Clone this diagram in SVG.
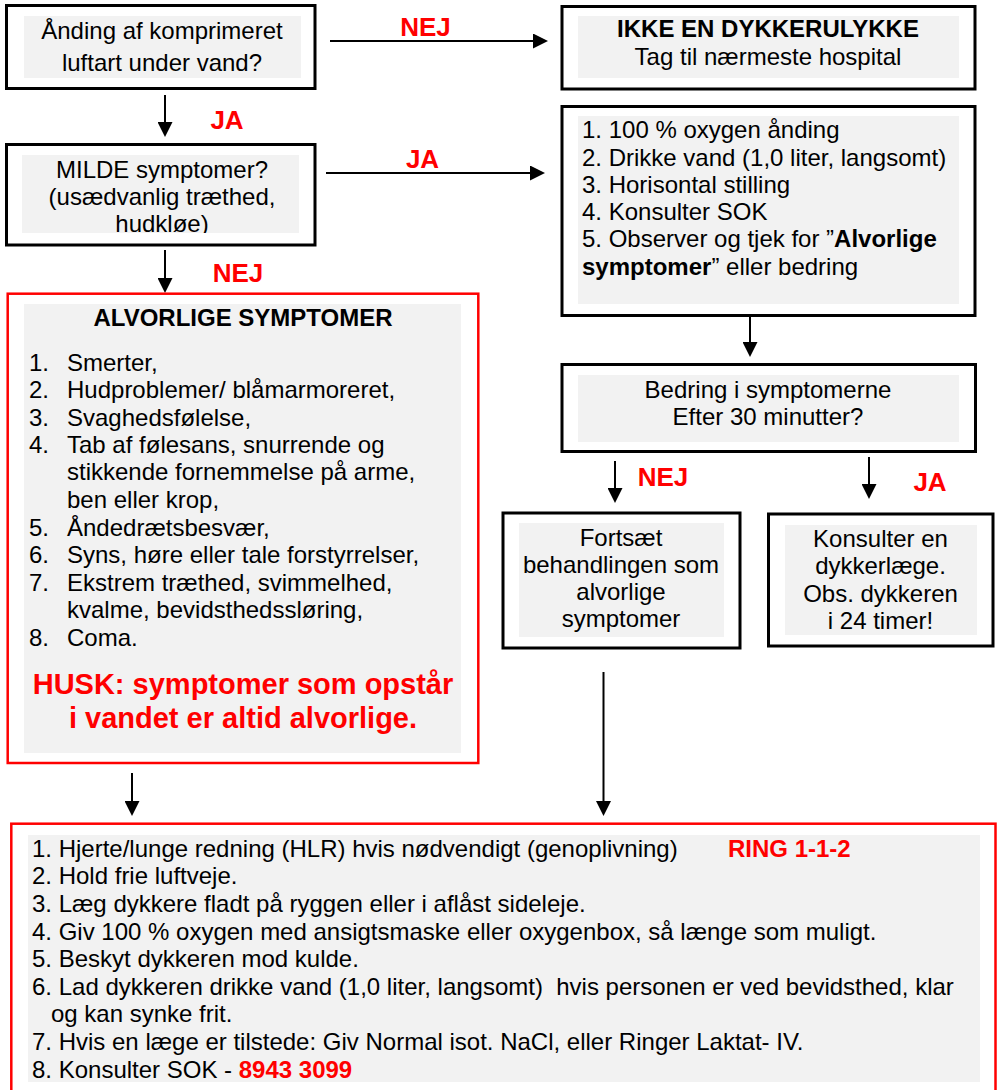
<svg xmlns="http://www.w3.org/2000/svg" width="998" height="1090" viewBox="0 0 998 1090">
<style>
.box{fill:#fff;stroke:#000;stroke-width:3}
.rbox{fill:#fff;stroke:#f00;stroke-width:2.5}
.bg{fill:#f2f2f2}
.t{font-family:"Liberation Sans",Arial,sans-serif;font-size:24px;fill:#000}
.c{text-anchor:middle}
.b{font-weight:bold}
.red{fill:#f00}
.lbl{font-family:"Liberation Sans",Arial,sans-serif;font-size:26px;font-weight:bold;fill:#f00;text-anchor:middle}
.husk{font-family:"Liberation Sans",Arial,sans-serif;font-size:29px;font-weight:bold;fill:#f00;text-anchor:middle}
.conn line{stroke:#000;stroke-width:2;marker-end:url(#ah)}
</style>
<defs>
<marker id="ah" viewBox="0 0 15 15" markerWidth="15" markerHeight="15" refX="10" refY="7.5" orient="auto" markerUnits="userSpaceOnUse">
<path d="M0,0 L15,7.5 L0,15 z" fill="#000"/>
</marker>
<clipPath id="clipMilde"><rect x="22" y="155" width="277" height="78"/></clipPath>
</defs>
<rect width="998" height="1090" fill="#fff"/>

<g id="connectors" class="conn">
<line x1="330" y1="41" x2="543" y2="41"/>
<line x1="165" y1="95" x2="165" y2="132"/>
<line x1="326" y1="173" x2="540" y2="173"/>
<line x1="165" y1="250" x2="165" y2="288"/>
<line x1="750" y1="317" x2="750" y2="352"/>
<line x1="615" y1="461" x2="615" y2="498"/>
<line x1="869" y1="457" x2="869" y2="494"/>
<line x1="132" y1="773" x2="132" y2="811"/>
<line x1="603.5" y1="672" x2="603.5" y2="811"/>
</g>

<g id="labels">
<text class="lbl" x="425.5" y="36">NEJ</text>
<text class="lbl" x="227" y="129">JA</text>
<text class="lbl" x="422.5" y="168">JA</text>
<text class="lbl" x="238" y="282">NEJ</text>
<text class="lbl" x="663" y="486">NEJ</text>
<text class="lbl" x="930" y="491">JA</text>
</g>

<g id="n-breathing">
<rect class="box" x="6.5" y="5.5" width="308.5" height="83"/>
<rect class="bg" x="24" y="16" width="277" height="62"/>
<text class="t c" x="162" y="39">Ånding af komprimeret</text>
<text class="t c" x="162" y="71">luftart under vand?</text>
</g>

<g id="n-notaccident">
<rect class="box" x="562" y="6.5" width="413" height="82.5"/>
<rect class="bg" x="578" y="16" width="381" height="62"/>
<text class="t c b" x="768" y="37">IKKE EN DYKKERULYKKE</text>
<text class="t c" x="768" y="65">Tag til nærmeste hospital</text>
</g>

<g id="n-mild">
<rect class="box" x="6.5" y="144.5" width="308.5" height="100.5"/>
<rect class="bg" x="22" y="155" width="277" height="78"/>
<g clip-path="url(#clipMilde)">
<text class="t c" x="162" y="178">MILDE symptomer?</text>
<text class="t c" x="162" y="205">(usædvanlig træthed,</text>
<text class="t c" x="162" y="232">hudkløe)</text>
</g>
</g>

<g id="n-protocol">
<rect class="box" x="562" y="106.5" width="413" height="209"/>
<rect class="bg" x="578" y="116" width="381" height="188"/>
<text class="t" x="582" y="138">1. 100 % oxygen ånding</text>
<text class="t" x="582" y="166">2. Drikke vand (1,0 liter, langsomt)</text>
<text class="t" x="582" y="193">3. Horisontal stilling</text>
<text class="t" x="582" y="220">4. Konsulter SOK</text>
<text class="t" x="582" y="247">5. Observer og tjek for ”<tspan class="b">Alvorlige</tspan></text>
<text class="t" x="582" y="275"><tspan class="b">symptomer</tspan>” eller bedring</text>
</g>

<g id="n-serious">
<rect class="rbox" x="7.7" y="293.7" width="470.6" height="469.3"/>
<rect class="bg" x="24" y="304" width="437" height="449"/>
<text class="t c b" x="243" y="326">ALVORLIGE SYMPTOMER</text>
<text class="t" x="29" y="371">1.</text><text class="t" x="67" y="371">Smerter,</text>
<text class="t" x="29" y="398">2.</text><text class="t" x="67" y="398">Hudproblemer/ blåmarmoreret,</text>
<text class="t" x="29" y="426">3.</text><text class="t" x="67" y="426">Svaghedsfølelse,</text>
<text class="t" x="29" y="453">4.</text><text class="t" x="67" y="453">Tab af følesans, snurrende og</text>
<text class="t" x="67" y="480">stikkende fornemmelse på arme,</text>
<text class="t" x="67" y="508">ben eller krop,</text>
<text class="t" x="29" y="536">5.</text><text class="t" x="67" y="536">Åndedrætsbesvær,</text>
<text class="t" x="29" y="563">6.</text><text class="t" x="67" y="563">Syns, høre eller tale forstyrrelser,</text>
<text class="t" x="29" y="591">7.</text><text class="t" x="67" y="591">Ekstrem træthed, svimmelhed,</text>
<text class="t" x="67" y="618">kvalme, bevidsthedssløring,</text>
<text class="t" x="29" y="646">8.</text><text class="t" x="67" y="646">Coma.</text>
<text class="husk" x="243" y="694">HUSK: symptomer som opstår</text>
<text class="husk" x="243" y="728">i vandet er altid alvorlige.</text>
</g>

<g id="n-improve">
<rect class="box" x="562" y="364.5" width="413.5" height="87"/>
<rect class="bg" x="578" y="375" width="381" height="67"/>
<text class="t c" x="768" y="398">Bedring i symptomerne</text>
<text class="t c" x="768" y="425">Efter 30 minutter?</text>
</g>

<g id="n-continue">
<rect class="box" x="503" y="513" width="237" height="135"/>
<rect class="bg" x="519" y="523" width="205" height="114"/>
<text class="t c" x="621" y="546">Fortsæt</text>
<text class="t c" x="621" y="573">behandlingen som</text>
<text class="t c" x="621" y="600">alvorlige</text>
<text class="t c" x="621" y="627">symptomer</text>
</g>

<g id="n-consult">
<rect class="box" x="768.5" y="514" width="224.5" height="132"/>
<rect class="bg" x="785" y="525" width="192" height="110"/>
<text class="t c" x="880.5" y="547">Konsulter en</text>
<text class="t c" x="880.5" y="574">dykkerlæge.</text>
<text class="t c" x="880.5" y="602">Obs. dykkeren</text>
<text class="t c" x="880.5" y="629">i 24 timer!</text>
</g>

<g id="n-firstaid">
<rect class="rbox" x="11.3" y="823.7" width="984.2" height="300"/>
<rect class="bg" x="28" y="835" width="952" height="247"/>
<text class="t" x="32" y="857">1. Hjerte/lunge redning (HLR) hvis nødvendigt (genoplivning)</text>
<text class="t b red" x="728" y="857">RING 1-1-2</text>
<text class="t" x="32" y="884">2. Hold frie luftveje.</text>
<text class="t" x="32" y="912">3. Læg dykkere fladt på ryggen eller i aflåst sideleje.</text>
<text class="t" x="32" y="940">4. Giv 100 % oxygen med ansigtsmaske eller oxygenbox, så længe som muligt.</text>
<text class="t" x="32" y="967">5. Beskyt dykkeren mod kulde.</text>
<text class="t" x="32" y="995" xml:space="preserve">6. Lad dykkeren drikke vand (1,0 liter, langsomt)  hvis personen er ved bevidsthed, klar</text>
<text class="t" x="51" y="1022">og kan synke frit.</text>
<text class="t" x="32" y="1050">7. Hvis en læge er tilstede: Giv Normal isot. NaCl, eller Ringer Laktat- IV.</text>
<text class="t" x="32" y="1078">8. Konsulter SOK - <tspan class="b red">8943 3099</tspan></text>
</g>
</svg>
